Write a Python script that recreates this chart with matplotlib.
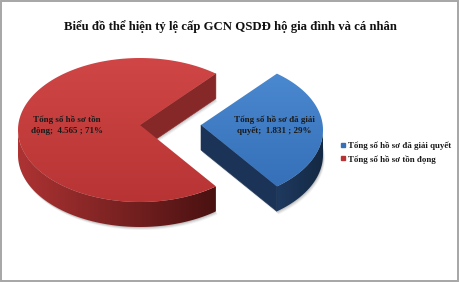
import numpy as np
import matplotlib
matplotlib.use("Agg")
import matplotlib.pyplot as plt
from matplotlib.patches import Polygon, Rectangle
from matplotlib.lines import Line2D

# ---- data -------------------------------------------------------------
categories = ["Tổng số hồ sơ đã giải quyết", "Tổng số hồ sơ tồn đọng"]
label_heads = ["Tổng số hồ sơ đã giải\nquyết", "Tổng số hồ sơ tồn\nđộng"]
values = [1831, 4565]
title = "Biểu đồ thể hiện tỷ lệ cấp GCN QSDĐ hộ gia đình và cá nhân"

# ---- style ------------------------------------------------------------
top_colors = [("#4a88cf", "#3570b8"), ("#d04646", "#b83434")]
side_colors = [("#1f3a60", "#132842"), ("#ad3333", "#4a1111")]
cut_colors = ["#1b3356", "#862828"]
explode = [0.5, 0.0]
SERIF = ["Liberation Serif", "DejaVu Serif"]

W, H = 460, 282
fig = plt.figure(figsize=(W / 100, H / 100), dpi=100)
ax = fig.add_axes([0, 0, 1, 1])
ax.set_xlim(0, W)
ax.set_ylim(H, 0)
ax.axis("off")

# pie geometry in pixel units (screen y grows downward)
CX, CY = 140.0, 130.0        # ellipse centre of the pie
RA, RB = 122.0, 72.0         # horizontal / vertical radii of top face
THICK = 25.0                 # extrusion depth
APEX_DY = -5.0               # perspective shift of the wedge tip

total = float(sum(values))
fracs = [v / total for v in values]
start = -fracs[0] * 180.0    # first slice centred on the right


def hexrgb(h):
    return np.array(matplotlib.colors.to_rgb(h))


def rim(cx, cy, th, dy=0.0):
    r = np.radians(th)
    return np.column_stack([cx + RA * np.cos(r), cy - RB * np.sin(r) + dy])


def gradient_fill(poly, c0, c1, zorder, horizontal=False):
    patch = Polygon(poly, closed=True, facecolor="none", edgecolor="none", zorder=zorder)
    ax.add_patch(patch)
    n = 128
    t = np.linspace(0, 1, n)[:, None]
    ramp = (1 - t) * hexrgb(c0) + t * hexrgb(c1)
    if horizontal:
        img = np.repeat(ramp[None, :, :], 2, axis=0)
    else:
        img = np.repeat(ramp[:, None, :], 2, axis=1)
    xmin, xmax = poly[:, 0].min(), poly[:, 0].max()
    ymin, ymax = poly[:, 1].min(), poly[:, 1].max()
    im = ax.imshow(img, extent=(xmin, xmax, ymax, ymin), origin="upper",
                   aspect="auto", zorder=zorder, interpolation="bilinear")
    im.set_clip_path(patch)
    ax.set_xlim(0, W)
    ax.set_ylim(H, 0)


slices = []
a0 = start
for i, f in enumerate(fracs):
    a1 = a0 + f * 360.0
    mid = np.radians((a0 + a1) / 2)
    cx = CX + explode[i] * RA * np.cos(mid)
    cy = CY - explode[i] * RB * np.sin(mid)
    slices.append((i, a0, a1, cx, cy))
    a0 = a1

# soft shadow under the pie
for i, a0, a1, cx, cy in slices:
    th = np.linspace(a0, a1, 200)
    pts = rim(cx, cy, th, THICK)
    apex = np.array([[cx, cy + APEX_DY + THICK]])
    poly = np.vstack([apex, pts])
    for k, al in [(3.0, 0.10), (2.0, 0.18), (1.0, 0.25)]:
        ax.add_patch(Polygon(poly + np.array([0.6 * k, k]), closed=True,
                             facecolor="#7f7f7f", edgecolor="none",
                             alpha=al, zorder=1))

for i, a0, a1, cx, cy in slices:
    apex = np.array([cx, cy + APEX_DY])

    # curved outer wall, only the part facing the viewer
    lo = a0
    hi = a1
    # front half spans angles (180, 360) modulo 360
    segs = []
    for base in (-360.0, 0.0, 360.0):
        s, e = max(lo, 180.0 + base), min(hi, 360.0 + base)
        if e > s:
            segs.append((s, e))
    for s, e in segs:
        th = np.linspace(s, e, 300)
        upper = rim(cx, cy, th)
        lower = rim(cx, cy, th[::-1], THICK)
        wall = np.vstack([upper, lower])
        gradient_fill(wall, side_colors[i][0], side_colors[i][1], zorder=2,
                      horizontal=True)

    # radial cut walls that face the viewer
    for ang, sgn in [(a0, -1), (a1, 1)]:
        nrm = np.radians(ang + sgn * 90)
        if np.sin(nrm) < 0:
            corner = rim(cx, cy, [ang])[0]
            wall = np.vstack([apex, corner, corner + [0, THICK], apex + [0, THICK]])
            ax.add_patch(Polygon(wall, closed=True, facecolor=cut_colors[i],
                                 edgecolor=cut_colors[i], lw=0.4, zorder=3))

    # top face
    top = np.vstack([apex, rim(cx, cy, np.linspace(a0, a1, 300))])
    gradient_fill(top, top_colors[i][0], top_colors[i][1], zorder=4)

    # data label
    mid = np.radians((a0 + a1) / 2)
    lx = apex[0] + 0.6 * RA * np.cos(mid)
    ly = apex[1] - 0.6 * RB * np.sin(mid)
    num = f"{values[i]:,}".replace(",", ".")
    pct = round(100 * values[i] / total)
    ax.text(lx, ly, f"{label_heads[i]};  {num} ; {pct}%", ha="center", va="center",
            family=SERIF, fontweight="bold", fontsize=6.5, color="#1a1a1a",
            linespacing=1.45, zorder=6)

# title
ax.text(W / 2, 27, title, ha="center", va="center", family=SERIF,
        fontweight="bold", fontsize=9.15, color="#111111", zorder=6)

# legend
handles = [Line2D([], [], ls="none", marker="s", markersize=3.2,
                  markerfacecolor=top_colors[i][1], markeredgecolor=top_colors[i][1])
           for i in range(len(categories))]
leg = ax.legend(handles, categories, loc="center left",
                bbox_to_anchor=(340 / W, 1 - 152.5 / H), frameon=False,
                handlelength=0.6, handletextpad=0.35, labelspacing=0.55,
                borderpad=0, borderaxespad=0,
                prop={"family": SERIF, "weight": "bold", "size": 6.4})
for t in leg.get_texts():
    t.set_color("#1a1a1a")

# outer frame
ax.add_patch(Rectangle((0.8, 0.8), W - 2.6, H - 2.3, fill=False,
                       edgecolor="#a6a6a6", lw=1.4, zorder=7))

fig.savefig("out.png", dpi=100)
